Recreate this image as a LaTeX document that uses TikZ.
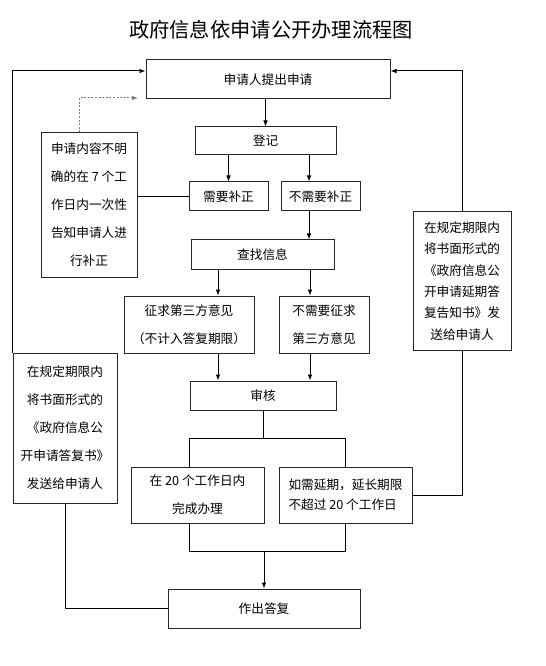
\documentclass[tikz,border=0pt]{standalone}
\usepackage{fontspec}
\newfontfamily\cjk{Noto Sans CJK SC}
\usetikzlibrary{arrows.meta}

\tikzset{every picture/.style={line width=0.75pt}}
\tikzset{
  flowbox/.style={draw=black!85, rectangle, inner sep=0pt, align=center,
    font=\cjk\fontsize{9.5}{21}\selectfont},
  sized/.style 2 args={minimum width=#1*0.75pt, minimum height=#2*0.75pt},
  flowarr/.style={-{Latex[length=4.5pt,width=3.5pt]}},
  hintarr/.style={draw=gray, dash pattern=on 1.5pt off 1.2pt, -{Latex[length=4.5pt,width=3.5pt]}},
}

\begin{document}
\begin{tikzpicture}[x=0.75pt,y=0.75pt,yscale=-1,xscale=1]
\useasboundingbox (0,0) rectangle (545,666);

% Title
\node[font=\cjk\fontsize{15.2}{18}\selectfont] (title) at (271,30) {政府信息依申请公开办理流程图};

% Boxes
\node[flowbox, sized={244}{39}] (apply) at (268,79.5) {申请人提出申请};
\node[flowbox, sized={141}{28}] (reg) at (265.5,141) {登记};
\node[flowbox, sized={79}{29}] (need) at (228.5,196.5) {需要补正};
\node[flowbox, sized={79}{29}] (noneed) at (320.5,196.5) {不需要补正};
\node[flowbox, sized={96}{144}] (notify) at (89,205)
  {申请内容不明\\确的在 7 个工\\作日内一次性\\告知申请人进\\行补正};
\node[flowbox, sized={143}{29}] (search) at (262.5,254.5) {查找信息};
\node[flowbox, sized={130}{57}] (third) at (189,324.5) {征求第三方意见\\（不计入答复期限）};
\node[flowbox, sized={90}{57}] (nothird) at (324,324.5) {不需要征求\\第三方意见};
\node[flowbox, sized={146}{29}] (review) at (263,395.5) {审核};
\node[flowbox, sized={133}{56}] (done20) at (197.5,495) {在 20 个工作日内\\完成办理};
\node[flowbox, sized={133}{56}, align=left, font=\cjk\fontsize{9.5}{15}\selectfont] (extend) at (345.5,495)
  {如需延期，延长期限\\不超过 20 个工作日};
\node[flowbox, sized={192}{39}] (reply) at (264,608.5) {作出答复};
\node[flowbox, sized={104}{150}] (replybook) at (65,428)
  {在规定期限内\\将书面形式的\\《政府信息公\\开申请答复书》\\发送给申请人};
\node[flowbox, sized={98}{138}, font=\cjk\fontsize{9.5}{16}\selectfont] (extbook) at (462,281)
  {在规定期限内\\将书面形式的\\《政府信息公\\开申请延期答\\复告知书》发\\送给申请人};

% Helper coordinates
\coordinate (loopy) at (0,71);
\coordinate (colA) at (309,0);
\coordinate (colB) at (218,0);
\coordinate (colC) at (310,0);
\coordinate (splitT) at (0,438);
\coordinate (splitB) at (0,551);
\coordinate (dotx) at (79,0);
\coordinate (dotend) at (138,98);

% Main flow
\draw[flowarr] (reg.north |- apply.south) -- (reg.north);
\draw[flowarr] (need.north |- reg.south) -- (need.north);
\draw[flowarr] (colA |- reg.south) -- (colA |- noneed.north);
\draw (notify.east |- need.west) -- (need.west);
\draw[flowarr] (colA |- noneed.south) -- (colA |- search.north);
\draw[flowarr] (colB |- search.south) -- (colB |- third.north);
\draw[flowarr] (colC |- search.south) -- (colC |- nothird.north);
\draw[flowarr] (colB |- third.south) -- (colB |- review.north);
\draw[flowarr] (colC |- nothird.south) -- (colC |- review.north);
\draw (review.south) -- (review.south |- splitT);
\draw (review.south west |- done20.north) |- (extend.north |- splitT) -- (extend.north);
\draw (review.south west |- done20.south) |- (extend.south |- splitB) -- (extend.south);
\draw[flowarr] (reply.north |- splitB) -- (reply.north);

% Feedback lines
\draw[flowarr] (replybook.north west) |- (loopy -| apply.west);
\draw[flowarr] (extbook.north) |- (loopy -| apply.east);
\draw (extbook.south) |- (extend.east);
\draw (replybook.south) |- (reply.west);
\draw[hintarr] (dotx |- notify.north) |- (dotend);

\end{tikzpicture}
\end{document}
